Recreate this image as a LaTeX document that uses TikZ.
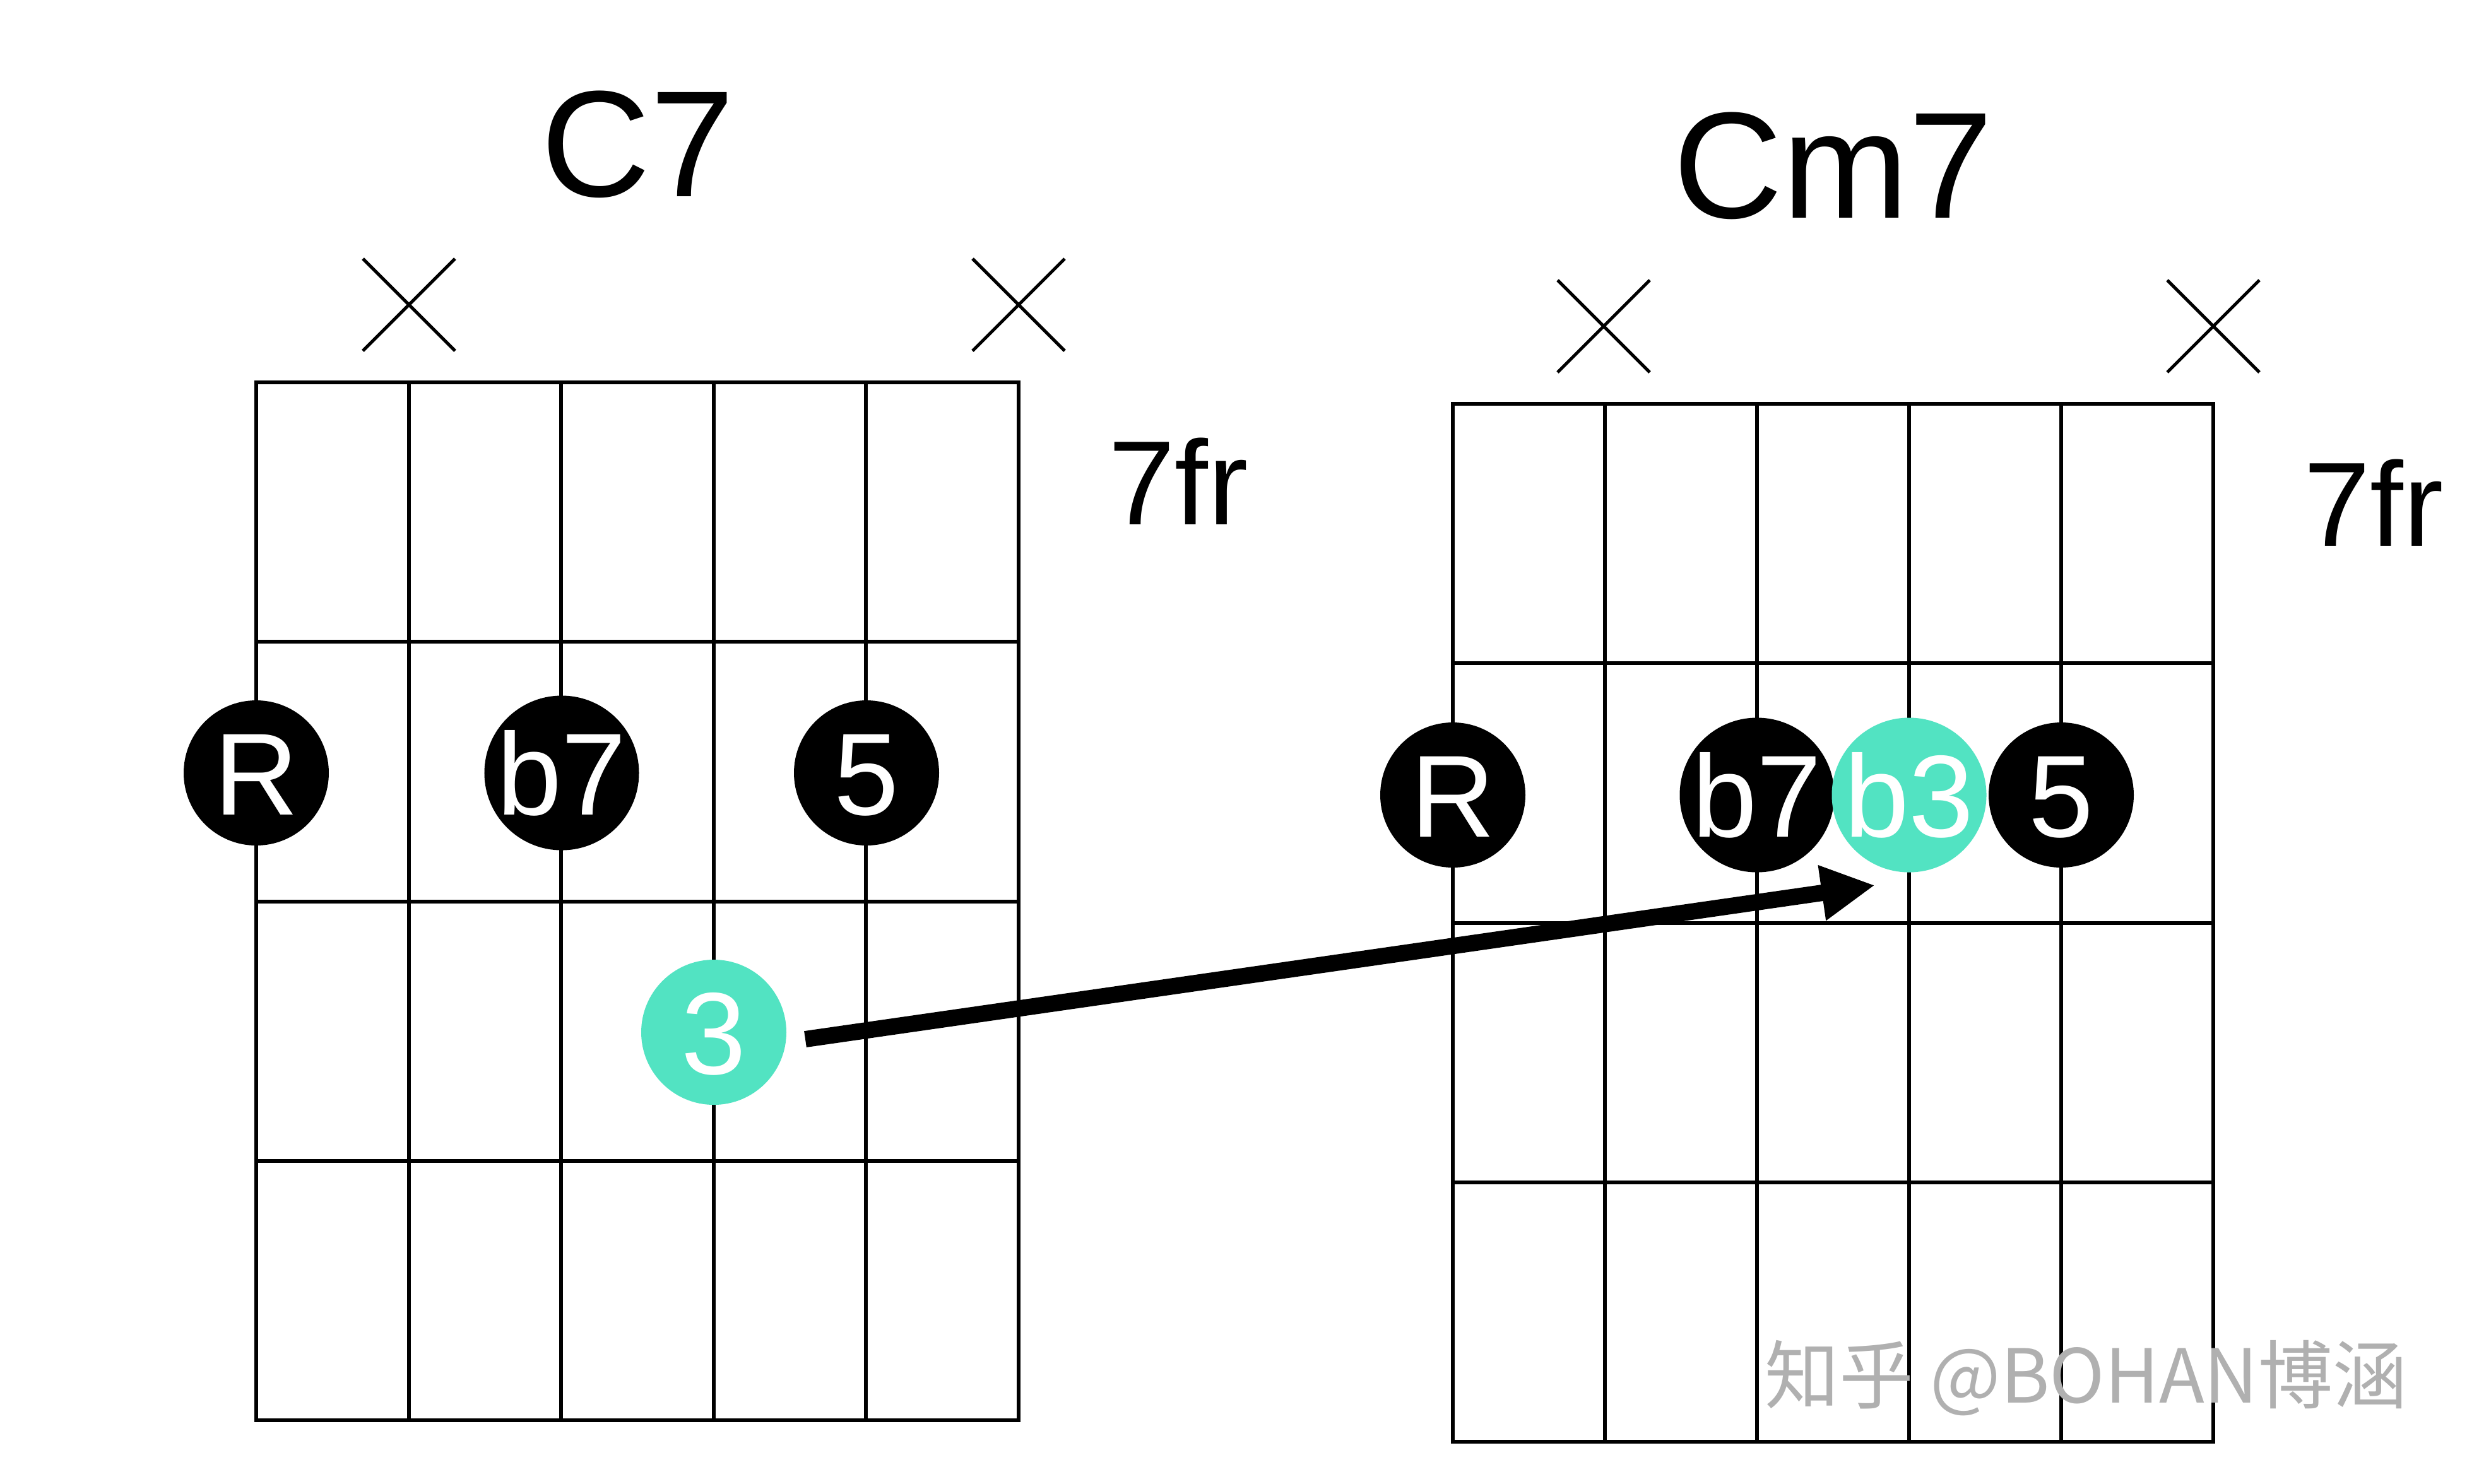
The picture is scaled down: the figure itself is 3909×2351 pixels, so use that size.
\documentclass[tikz,border=0pt]{standalone}
\usepackage{fontspec}
\setmainfont{Liberation Sans}
\newfontfamily\cjk{Noto Sans CJK SC}
\usetikzlibrary{arrows.meta}
\definecolor{teal3}{HTML}{52E3C2}
\definecolor{wmgray}{HTML}{B0B0B0}
\begin{document}
\begin{tikzpicture}[x=0.2pt,y=-0.2pt,
  gridline/.style={line width=1.2pt, line cap=rect},
  mute/.style={line width=1pt},
  note/.style={circle, fill=black, text=white, minimum size=46pt, inner sep=0pt,
    font=\fontsize{37}{37}\selectfont, text height=26.6pt, text depth=0pt},
  keynote/.style={note, fill=teal3},
  title/.style={font=\fontsize{48}{48}\selectfont, anchor=base, inner sep=0pt},
  fretlabel/.style={font=\fontsize{38}{38}\selectfont, anchor=base west, inner sep=0pt},
]
\fill[white] (0,0) rectangle (3909,2351);
\useasboundingbox (0,0) rectangle (3909,2351);

% ---------- left diagram: C7 ----------
\foreach \i in {0,...,5}
  \draw[gridline] ({406+241.6*\i},606) -- ({406+241.6*\i},2251);
\foreach \j in {0,...,4}
  \draw[gridline] (406,{606+411.25*\j}) -- (1614,{606+411.25*\j});
\draw[mute] (575,410) -- (721,556) (575,556) -- (721,410);
\draw[mute] (1541,410) -- (1687,556) (1541,556) -- (1687,410);
\node[title] (t1) at (1011,311) {C7};
\node[fretlabel] (f1) at (1755,831) {7fr};

% ---------- right diagram: Cm7 ----------
\foreach \i in {0,...,5}
  \draw[gridline] ({2302+241*\i},640) -- ({2302+241*\i},2285);
\foreach \j in {0,...,4}
  \draw[gridline] (2302,{640+411.25*\j}) -- (3507,{640+411.25*\j});
\draw[mute] (2468,444) -- (2614,590) (2468,590) -- (2614,444);
\draw[mute] (3434,444) -- (3580,590) (3434,590) -- (3580,444);
\node[title] (t2) at (2905,345) {Cm7};
\node[fretlabel] (f2) at (3649,865) {7fr};

% ---------- arrow ----------
\coordinate (arrstart) at (1276,1647);
\coordinate (arrtip) at (2971,1403);
\draw[line width=5.2pt, -{Triangle[length=17pt,width=16.5pt]}] (arrstart) -- (arrtip);

% ---------- notes ----------
\node[note] (lR) at (406,1225) {R};
\node[note] (lb7) at (890,1225) {b7};
\node[note] (l5) at (1373,1225) {5};
\node[keynote] (l3) at (1131,1636) {3};

\node[note] (rR) at (2302,1260) {R};
\node[note] (rb7) at (2784,1260) {b7};
\node[keynote] (rb3) at (3025,1260) {b3};
\node[note] (r5) at (3266,1260) {5};

% ---------- watermark ----------
\node[anchor=base west, inner sep=0pt, text=wmgray, font=\cjk\fontsize{23.6}{23.6}\selectfont] (wm) at (2795,2223) {知乎 @BOHAN博涵};
\end{tikzpicture}
\end{document}
